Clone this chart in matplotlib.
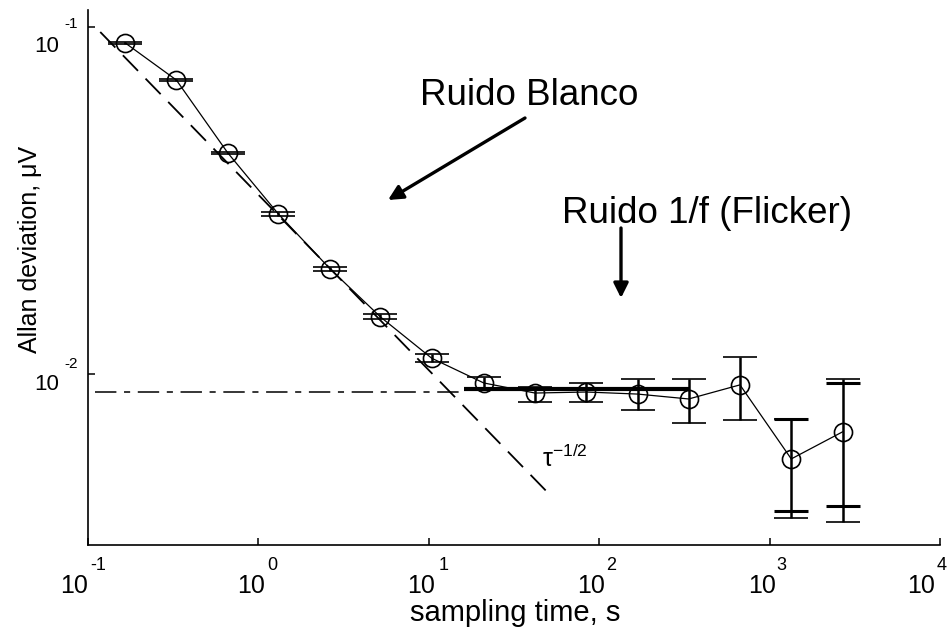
import numpy as np
import matplotlib
matplotlib.use("Agg")
import matplotlib.pyplot as plt
from matplotlib.transforms import blended_transform_factory, offset_copy

plt.rcParams['font.family'] = ['Liberation Sans', 'DejaVu Sans']
plt.rcParams['mathtext.default'] = 'regular'

# ---- data ----
tau = [0.165, 0.33, 0.66, 1.31, 2.63, 5.2, 10.4, 21, 42, 84, 168, 335, 670, 1340, 2680]
dev = [0.0900, 0.0703, 0.0434, 0.0289, 0.0201, 0.0146, 0.0111, 0.00942, 0.00881,
       0.00887, 0.00875, 0.00847, 0.00930, 0.00569, 0.00681]
dev_hi = [0.0905, 0.0708, 0.0436, 0.0292, 0.0203, 0.01484, 0.01142, 0.00980, 0.00917,
          0.00942, 0.00967, 0.00967, 0.01119, 0.00742, 0.00967]
dev_lo = [0.0893, 0.0699, 0.0431, 0.0286, 0.0198, 0.01436, 0.01083, 0.00899, 0.00831,
          0.00831, 0.00788, 0.00723, 0.00737, 0.00385, 0.00375]
# secondary (inner) error caps at the last two points
tau_inner = [1340, 2680]
dev_inner_hi = [0.00742, 0.00942]
dev_inner_lo = [0.00403, 0.00416]

# white-noise slope line (tau^-1/2) end points
white_tau = [0.118, 50.8]
white_dev = [0.0967, 0.00451]
# flicker floor: dashed part and thick fitted part
flicker_dash_tau = [0.11, 16.0]
flicker_dash_dev = [0.00889, 0.00889]
flicker_fit_tau = [16.0, 340.0]
flicker_fit_dev = [0.00902, 0.00902]

xticks = [0.1, 1, 10, 100, 1000, 10000]
xtick_exps = ['-1', '0', '1', '2', '3', '4']
yticks = [0.01, 0.1]
ytick_exps = ['-2', '-1']

W, H = 949, 630
fig = plt.figure(figsize=(W / 100, H / 100), dpi=100)
ax = fig.add_axes([88 / W, 1 - 545 / H, (940 - 88) / W, (545 - 10) / H])
ax.set_xscale('log')
ax.set_yscale('log')
ax.set_xlim(0.1, 10000)
ax.set_ylim(0.003214, 0.1119)

# reference lines
ax.plot(white_tau, white_dev, color='black', lw=1.3, linestyle=(0, (12, 6)))
ax.plot(flicker_dash_tau, flicker_dash_dev, color='black', lw=1.1, linestyle=(0, (14, 5, 4, 5)))
ax.plot(flicker_fit_tau, flicker_fit_dev, color='black', lw=3.0, solid_capstyle='butt')

# data with error bars
tau_a = np.array(tau)
dev_a = np.array(dev)
yerr = [dev_a - np.array(dev_lo), np.array(dev_hi) - dev_a]
ax.errorbar(tau_a, dev_a, yerr=yerr, fmt='o', color='black', mfc='none', mec='black',
            ms=13, mew=1.2, ecolor='black', elinewidth=1.8, capsize=12, capthick=3.0,
            zorder=3)
ax.plot(tau, dev, color='black', lw=0.9, zorder=3)
ax.plot(tau_inner, dev_inner_hi, linestyle='none', marker='_', ms=25, mew=2.2, color='black')
ax.plot(tau_inner, dev_inner_lo, linestyle='none', marker='_', ms=25, mew=2.2, color='black')

# text label for slope line
ax.text(46, 0.0054, r'$\tau^{-1/2}$', fontsize=18, ha='left', va='baseline')

# axes styling
for s in ['top', 'right']:
    ax.spines[s].set_visible(False)
for s in ['left', 'bottom']:
    ax.spines[s].set_linewidth(1.2)
ax.set_xticks(xticks)
ax.set_yticks(yticks)
ax.minorticks_off()
ax.tick_params(axis='both', direction='in', length=5, width=1.1,
               labelbottom=False, labelleft=False)

# tick labels drawn as "10" with a raised exponent, like the reference
xt = blended_transform_factory(ax.transData, ax.transAxes)
x_base_dx = [-14, -7, -8, -8, -8, -19]
x_exp_dx = [2, 9, 10, 7, 7, -3]
for x, e, dx10, dxe in zip(xticks, xtick_exps, x_base_dx, x_exp_dx):
    ax.text(x, 0, '10', fontsize=18, ha='center', va='baseline', clip_on=False,
            transform=offset_copy(xt, fig=fig, x=dx10, y=-48, units='dots'))
    ax.text(x, 0, e, fontsize=13, ha='left', va='baseline', clip_on=False,
            transform=offset_copy(xt, fig=fig, x=dxe, y=-25, units='dots'))

yt = blended_transform_factory(ax.transAxes, ax.transData)
y_base_dy = [-16, -25]
y_exp_dy = [6, -1]
for y, e, dy10, dye in zip(yticks, ytick_exps, y_base_dy, y_exp_dy):
    ax.text(0, y, '10', fontsize=16, ha='right', va='baseline', clip_on=False,
            transform=offset_copy(yt, fig=fig, x=-29, y=dy10, units='dots'))
    ax.text(0, y, e, fontsize=11, ha='right', va='baseline', clip_on=False,
            transform=offset_copy(yt, fig=fig, x=-10, y=dye, units='dots'))

ax.set_xlabel('sampling time, s', fontsize=21)
ax.xaxis.set_label_coords(0.501, -0.101)
ax.set_ylabel('Allan deviation, \u03bcV', fontsize=18)
ax.yaxis.set_label_coords(-0.054, 0.553)

# annotations (figure pixel positions)
def fp(x, y):
    return (x / W, 1 - y / H)

fig.text(*fp(420, 105), 'Ruido Blanco', fontsize=26.5, ha='left', va='baseline')
fig.text(*fp(562, 223), 'Ruido 1/f (Flicker)', fontsize=26.5, ha='left', va='baseline')
ax.annotate('', xy=fp(388, 200), xytext=fp(525, 118), xycoords='figure fraction',
            textcoords='figure fraction',
            arrowprops=dict(arrowstyle='-|>', lw=2.4, color='black', mutation_scale=22,
                            shrinkA=0, shrinkB=0))
ax.annotate('', xy=fp(621, 298), xytext=fp(621, 228), xycoords='figure fraction',
            textcoords='figure fraction',
            arrowprops=dict(arrowstyle='-|>', lw=2.4, color='black', mutation_scale=22,
                            shrinkA=0, shrinkB=0))

fig.savefig('out.png', dpi=100)
